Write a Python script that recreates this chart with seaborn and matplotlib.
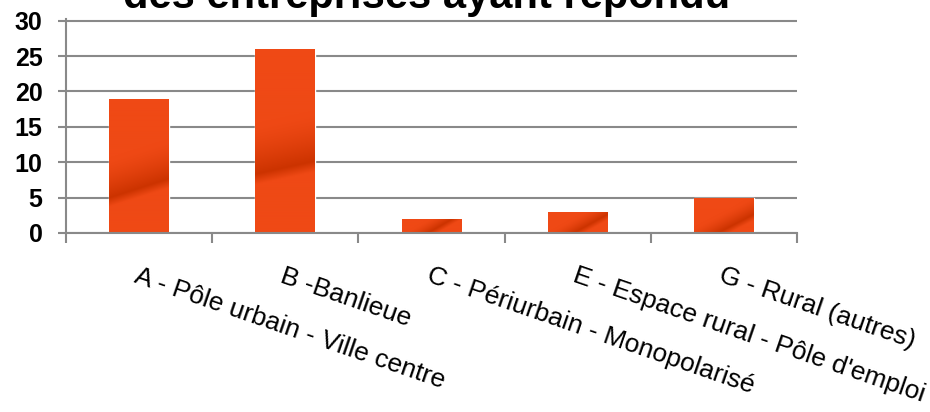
import numpy as np
import pandas as pd
import matplotlib
matplotlib.use("Agg")
import matplotlib.pyplot as plt
import seaborn as sns

# Data
categories = ["A - Pôle urbain - Ville centre", "B -Banlieue",
              "C - Périurbain - Monopolarisé", "E - Espace rural - Pôle d'emploi",
              "G - Rural (autres)"]
counts = [19, 26, 2, 3, 5]
y_ticks = [0, 5, 10, 15, 20, 25, 30]
title = "des entreprises ayant répondu"

df = pd.DataFrame({"zone": categories, "n": counts})

sns.set_theme(style="white")
plt.rcParams["font.family"] = ["Liberation Sans", "DejaVu Sans"]

grey = "#898989"
bright = np.array([239, 73, 21]) / 255
dark = np.array([204, 51, 0]) / 255

fig, ax = plt.subplots(figsize=(9.3, 4.12), dpi=100)
fig.subplots_adjust(left=66 / 930, right=797 / 930, top=1 - 19.3 / 412, bottom=1 - 233 / 412)

sns.barplot(data=df, x="zone", y="n", color="#EE4815", width=0.41,
            saturation=1, ax=ax, zorder=2)

ax.set_xlim(-0.5, len(categories) - 0.5)
ax.set_ylim(0, 30.2)

# glossy diagonal band on each bar (worked out in pixels)
ppu = ax.transData.transform((0, 1))[1] - ax.transData.transform((0, 0))[1]
ppx = ax.transData.transform((1, 0))[0] - ax.transData.transform((0, 0))[0]
for p in ax.patches:
    x0, y0, w, h = p.get_x(), p.get_y(), p.get_width(), p.get_height()
    hp, wp = h * ppu, w * ppx
    xs = np.linspace(-wp / 2, wp / 2, 60)
    ys = np.linspace(0, hp, max(int(hp), 2) * 2)
    X, Y = np.meshgrid(xs, ys)
    center = max(0.42 * hp - 12, 2)
    rise = 35 - 0.12 * hp
    up, lo = 0.22 * hp + 10, 0.03 * hp + 5
    d = Y - (center + rise * X / wp)
    f = np.where(d >= 0, np.clip(1 - d / up, 0, 1) ** 1.5, np.clip(1 + d / lo, 0, 1))
    grad = bright * (1 - f[..., None]) + dark * f[..., None]
    im = ax.imshow(grad, extent=[x0, x0 + w, y0, y0 + h], origin="lower",
                   aspect="auto", zorder=2.5, interpolation="bilinear")
    im.set_clip_path(p)

ax.set_xlim(-0.5, len(categories) - 0.5)
ax.set_ylim(0, 30.2)
ax.set_yticks(y_ticks)
ax.yaxis.grid(True, color=grey, lw=1.5)
ax.set_axisbelow(True)

for s in ["top", "right"]:
    ax.spines[s].set_visible(False)
for s in ["left", "bottom"]:
    ax.spines[s].set_color(grey)
    ax.spines[s].set_linewidth(1.5)

ax.set_xlabel("")
ax.set_ylabel("")
ax.tick_params(axis="y", left=True, length=5.8, width=1.5, color=grey, pad=11,
               labelsize=18, labelcolor="black")
for t in ax.get_yticklabels():
    t.set_fontweight("bold")

ax.set_xticks(range(len(categories)))
ax.set_xticks(np.arange(-0.5, len(categories)), minor=True)
ax.tick_params(axis="x", which="major", length=0, pad=22, labelcolor="black")
ax.tick_params(axis="x", which="minor", bottom=True, length=7.2, width=1.5, color=grey)
ax.set_xticklabels(categories, rotation=-19, ha="left", va="top",
                   rotation_mode="anchor", fontsize=19)

fig.text(427 / 930, 1 - 8 / 412, title, ha="center", va="baseline",
         fontsize=30, fontweight="bold", color="black")

fig.savefig("out.png", dpi=100)
